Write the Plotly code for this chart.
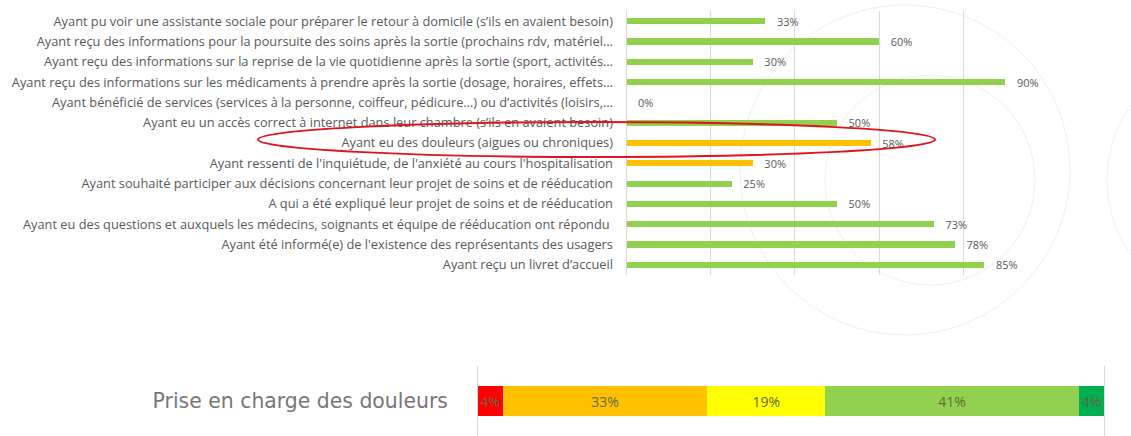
import plotly.graph_objects as go

W, H = 1131, 436

categories = [
    "Ayant pu voir une assistante sociale pour préparer le retour à domicile (s’ils en avaient besoin)",
    "Ayant reçu des informations pour la poursuite des soins après la sortie (prochains rdv, matériel…",
    "Ayant reçu des informations sur la reprise de la vie quotidienne après la sortie (sport, activités…",
    "Ayant reçu des informations sur les médicaments à prendre après la sortie (dosage, horaires, effets…",
    "Ayant bénéficié de services (services à la personne, coiffeur, pédicure…) ou d’activités (loisirs,…",
    "Ayant eu un accès correct à internet dans leur chambre (s’ils en avaient besoin)",
    "Ayant eu des douleurs (aigues ou chroniques)",
    "Ayant ressenti de l'inquiétude, de l'anxiété au cours l'hospitalisation",
    "Ayant souhaité participer aux décisions concernant leur projet de soins et de rééducation",
    "A qui a été expliqué leur projet de soins et de rééducation",
    "Ayant eu des questions et auxquels les médecins, soignants et équipe de rééducation ont répondu ",
    "Ayant été informé(e) de l'existence des représentants des usagers",
    "Ayant reçu un livret d’accueil",
]
values = [0.33, 0.60, 0.30, 0.90, 0.00, 0.50, 0.58, 0.30, 0.25, 0.50, 0.73, 0.78, 0.85]
bar_colors = ["#92D050"] * 6 + ["#FFC000", "#FFC000"] + ["#92D050"] * 5

stack_label = "Prise en charge des douleurs"
stack_values = [4, 33, 19, 41, 4]
stack_colors = ["#FF0000", "#FFC000", "#FFFF00", "#92D050", "#00B050"]

TXT = "#595959"
GRID = "#d9d9d9"
NB = "\u00a0"

fig = go.Figure()

fig.add_trace(go.Bar(
    y=categories, x=values, orientation="h",
    marker=dict(color=bar_colors, line=dict(width=0)),
    width=0.3,
    text=[f"{NB * 3}{round(v * 100)}%" for v in values],
    textposition="outside", cliponaxis=False, constraintext="none",
    textfont=dict(family="Open Sans", size=11, color=TXT),
    xaxis="x", yaxis="y", showlegend=False,
))

for v, c in zip(stack_values, stack_colors):
    fig.add_trace(go.Bar(
        y=[stack_label], x=[v], orientation="h",
        marker=dict(color=c, line=dict(width=0)),
        width=0.44,
        text=[f"{v}%"], textposition="inside", insidetextanchor="middle",
        textangle=0, constraintext="none",
        textfont=dict(family="Open Sans", size=14, color="#66663f"),
        xaxis="x2", yaxis="y2", showlegend=False,
    ))

fig.update_layout(
    width=W, height=H,
    margin=dict(l=0, r=0, t=0, b=0),
    paper_bgcolor="white", plot_bgcolor="rgba(0,0,0,0)",
    barmode="stack",
    xaxis=dict(domain=[626.5 / W, 1047.5 / W], range=[0, 1.0], anchor="y",
               showgrid=True, gridcolor=GRID, gridwidth=1, dtick=0.2,
               showticklabels=False, zeroline=False, showline=False),
    yaxis=dict(domain=[1 - 275 / H, 1 - 11 / H], anchor="x",
               autorange="reversed", type="category",
               tickfont=dict(family="Open Sans", size=12.8, color=TXT),
               ticks="", ticklabelstandoff=10,
               showline=True, linecolor=GRID, showgrid=False),
    xaxis2=dict(domain=[478 / W, 1104 / W], range=[0, sum(stack_values)], anchor="y2",
                showgrid=False, showticklabels=False, zeroline=False, showline=False),
    yaxis2=dict(domain=[0, 1 - 366 / H], anchor="x2", type="category",
                tickfont=dict(family="DejaVu Sans", size=20.4, color="#767676"),
                ticks="", ticklabelstandoff=25,
                showline=True, mirror=True, linecolor=GRID, showgrid=False),
)

# faint background watermark arcs
for (cx, cy, r) in [(905, 170, 165), (930, 180, 105), (1235, 180, 128)]:
    fig.add_shape(type="circle", xref="paper", yref="paper", layer="below",
                  x0=(cx - r) / W, x1=(cx + r) / W,
                  y0=1 - (cy + r) / H, y1=1 - (cy - r) / H,
                  line=dict(color="#f0f0f0", width=1))

# hand-drawn red ellipse highlight
fig.add_shape(type="circle", xref="paper", yref="paper",
              x0=258 / W, x1=935 / W, y0=1 - 157 / H, y1=1 - 122 / H,
              line=dict(color="#E0141E", width=2))

fig.write_html("out.html", config={"displayModeBar": False},
               post_script="document.body.style.margin='0';")
